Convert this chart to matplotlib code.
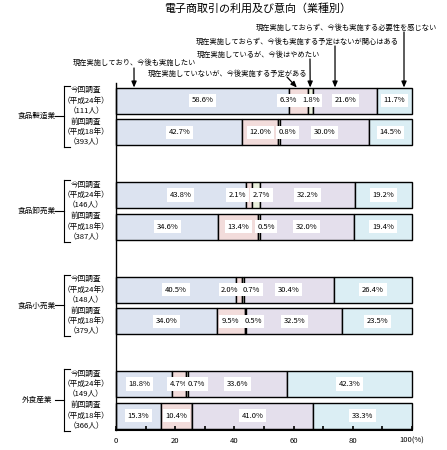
import matplotlib
matplotlib.use("Agg")
import numpy as np
import matplotlib.pyplot as plt

plt.rcParams['font.family'] = ['Noto Sans CJK JP', 'DejaVu Sans']

# data
groups = ["食品製造業", "食品卸売業", "食品小売業", "外食産業"]
survey_names = ["今回調査", "前回調査"]
survey_years = ["（平成24年）", "（平成18年）"]
respondents = [[111, 393], [146, 387], [148, 379], [149, 366]]
categories = [
    "現在実施しており、今後も実施したい",
    "現在実施していないが、今後実施する予定がある",
    "現在実施しているが、今後はやめたい",
    "現在実施しておらず、今後も実施する予定はないが関心はある",
    "現在実施しておらず、今後も実施する必要性を感じない",
]
values = [
    [58.6, 6.3, 1.8, 21.6, 11.7],
    [42.7, 12.0, 0.8, 30.0, 14.5],
    [43.8, 2.1, 2.7, 32.2, 19.2],
    [34.6, 13.4, 0.5, 32.0, 19.4],
    [40.5, 2.0, 0.7, 30.4, 26.4],
    [34.0, 9.5, 0.5, 32.5, 23.5],
    [18.8, 4.7, 0.7, 33.6, 42.3],
    [15.3, 10.4, 0.0, 41.0, 33.3],
]
colors = ["#dce3f0", "#f2dcdb", "#ebf1de", "#e4dfec", "#dbeef4"]

# label nudges for narrow segments (row, seg) -> shift in %
label_shift = {(0, 1): -3.6, (1, 2): 2.7, (2, 1): -3.8, (2, 2): 2.0,
               (3, 2): 2.4, (4, 1): -3.0, (4, 2): 3.0, (5, 2): 2.5,
               (6, 2): 3.4, (6, 0): -1.5}

W, H = 447, 450
def fx(px): return px / W
def fy(py): return 1 - py / H

fig = plt.figure(figsize=(W / 100, H / 100), dpi=100)
ax = fig.add_axes([fx(116), fy(430), fx(412) - fx(116), (430 - 83) / H])

# row positions (pixel-like units, inverted)
row_y = []
for g in range(4):
    for r in range(2):
        row_y.append(100.5 + g * 94.5 + r * 31.7)
bar_h = 26

fs = 5.5
for i, row in enumerate(values):
    left = 0
    for j, v in enumerate(row):
        ax.barh(row_y[i], v, left=left, height=bar_h, color=colors[j],
                edgecolor='black', linewidth=1.0, clip_on=False)
        if v > 0:
            xc = left + v / 2 + label_shift.get((i, j), 0)
            ax.text(xc, row_y[i], "%.1f%%" % v, ha='center', va='center',
                    fontsize=fs, zorder=5,
                    bbox=dict(boxstyle='square,pad=0.35', fc='white', ec='none'))
        left += v

ax.set_xlim(0, 100)
ax.set_ylim(430, 83)
for s in ['top', 'right']:
    ax.spines[s].set_visible(False)
ax.spines['left'].set_linewidth(1.0)
ax.spines['bottom'].set_linewidth(1.5)
ax.set_yticks([])
ax.set_xticks([0, 20, 40, 60, 80, 100])
ax.set_xticklabels(["0", "20", "40", "60", "80", "100(%)"], fontsize=fs)
ax.set_xticks(np.arange(0, 101, 10), minor=True)
ax.tick_params(axis='x', which='both', direction='in', length=3, width=1.2, pad=5)

# left labels and brackets
for g in range(4):
    y1, y2 = row_y[2 * g], row_y[2 * g + 1]
    ym = (y1 + y2) / 2
    fig.text(fx(37), fy(ym), groups[g], ha='center', va='center', fontsize=fs)
    top = fy(y1 - 15)
    bot = fy(y2 + 15)
    fig.add_artist(plt.Line2D([fx(64), fx(64)], [top, bot], color='black', lw=0.8))
    fig.add_artist(plt.Line2D([fx(64), fx(70)], [top, top], color='black', lw=0.8))
    fig.add_artist(plt.Line2D([fx(64), fx(70)], [bot, bot], color='black', lw=0.8))
    fig.add_artist(plt.Line2D([fx(55), fx(64)], [fy(ym), fy(ym)], color='black', lw=0.8))
    for r in range(2):
        yc = row_y[2 * g + r]
        fig.text(fx(86), fy(yc - 10.3), survey_names[r], ha='center', va='center', fontsize=fs)
        fig.text(fx(86), fy(yc), survey_years[r], ha='center', va='center', fontsize=fs)
        fig.text(fx(86), fy(yc + 10.3), "（%d人）" % respondents[g][r],
                 ha='center', va='center', fontsize=fs)

# title
fig.text(fx(258), fy(9), "電子商取引の利用及び意向（業種別）", ha='center', va='center',
         fontsize=7.9)

# category call-outs with arrows into the first bar
callouts = [
    (134.5, 63, 134, 68, 6.1),
    (227.5, 74, 287, 77, 61.1),
    (258.5, 55, 310, 59, 65.6),
    (297.5, 42, 335, 46, 74.0),
    (346.5, 28, 404, 32, 97.3),
]
bar_top = row_y[0] - bar_h / 2
for cat, (tx, ty, ax0, ay0, xd) in zip(categories, callouts):
    fig.text(fx(tx), fy(ty), cat, ha='center', va='center', fontsize=5.2)
    ax.annotate('', xy=(xd, bar_top), xycoords='data',
                xytext=(ax0, H - ay0), textcoords='figure pixels',
                arrowprops=dict(arrowstyle='-|>,head_length=0.35,head_width=0.15',
                                color='black', lw=0.9, shrinkA=0, shrinkB=0),
                annotation_clip=False)

fig.savefig("out.png", dpi=100)
